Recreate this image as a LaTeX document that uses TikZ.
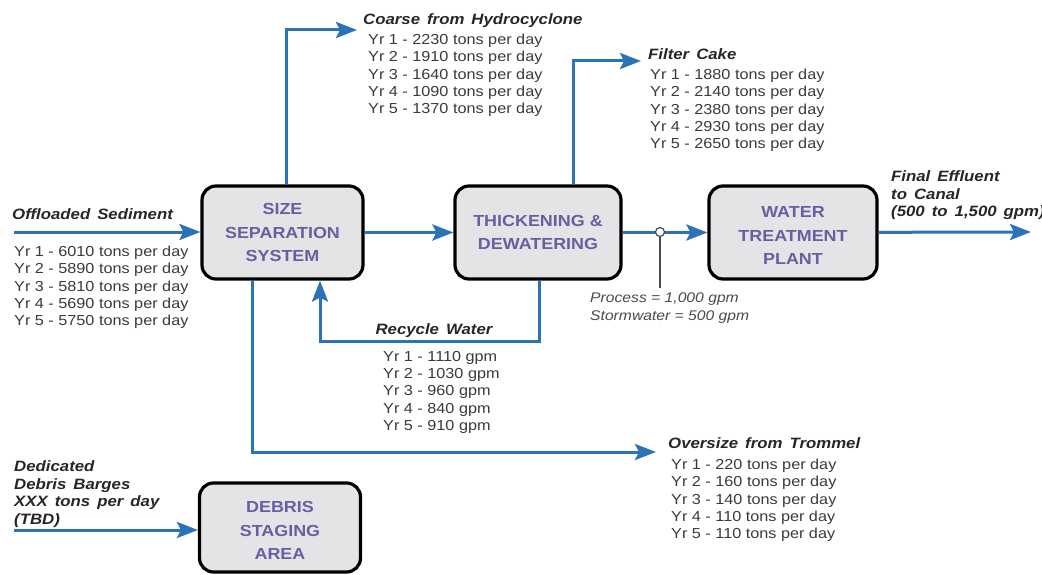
\documentclass[tikz,border=0pt]{standalone}
\usepackage{fontspec}
\setmainfont{Liberation Sans}[FakeStretch=1.12]
\usepackage{tikz}
\usetikzlibrary{arrows.meta, positioning}

\definecolor{flowblue}{HTML}{2B72B6}
\definecolor{boxfill}{HTML}{E4E4E6}
\definecolor{boxtext}{HTML}{6560A2}
\definecolor{datagrey}{HTML}{3A3A3A}
\definecolor{tapgrey}{HTML}{4A4A4A}

\newcommand{\widespaces}{\spaceskip=7pt plus 1pt\relax}
\newcommand{\topgap}{\rule{0pt}{17.5pt}}

\begin{document}
\begin{tikzpicture}[x=1pt, y=-1pt,
    unit/.style={draw=black, line width=3.2pt, fill=boxfill, rounded corners=14pt,
        minimum height=93pt, align=center, text=boxtext, inner sep=0pt,
        font=\fontsize{16}{23.5}\selectfont\bfseries},
    flow/.style={draw=flowblue, line width=3pt, -{Stealth[length=21pt, width=16pt, inset=4pt]}},
    title/.style={anchor=north west, inner sep=0pt, align=left, text=black!85,
        font=\fontsize{15}{17.5}\selectfont\bfseries\itshape\widespaces},
    data/.style={anchor=north west, inner sep=0pt, align=left, text=datagrey,
        font=\fontsize{14.5}{17.3}\selectfont}]
    \useasboundingbox (0,0) rectangle (1042,575);

    % Process units
    \node[unit, minimum width=161pt] (sizesep) at (282.5,232.5) {SIZE\\SEPARATION\\SYSTEM};
    \node[unit, minimum width=166pt] (thicken) at (538,232.5) {THICKENING \&\\DEWATERING};
    \node[unit, minimum width=168pt] (treat) at (793,232.5) {\topgap WATER\\TREATMENT\\PLANT};
    \node[unit, minimum width=161pt, minimum height=89pt] (debris) at (280,527.5) {\topgap DEBRIS\\STAGING\\AREA};

    % Free ends of the flows
    \coordinate (sedin) at (14,232);
    \coordinate (debrisin) at (14,530);
    \coordinate (coarseout) at (357,30);
    \coordinate (cakeout) at (641,61);
    \coordinate (recycle) at (430,341);
    \coordinate (oversizeout) at (656,452);
    \coordinate (effout) at (1031,232);
    \coordinate (tapend) at (660,288);

    % Flows
    \draw[flow] (sedin) -- (sedin -| sizesep.west);
    \draw[flow] (sizesep) -- (thicken);
    \draw[flow] (thicken) -- (treat);
    \draw[flow] (treat) -- (effout);
    \draw[flow] ([xshift=3.5pt]sizesep.north) |- (coarseout);
    \draw[flow] ([xshift=35pt]thicken.north) |- (cakeout);
    \draw[flow] ([xshift=1pt]thicken.south) |- (recycle) -| ([xshift=37.5pt]sizesep.south);
    \draw[flow] ([xshift=-30pt]sizesep.south) |- (oversizeout);
    \draw[flow] (debrisin) -- (debrisin -| debris.west);

    % Sampling point
    \node[circle, draw=tapgrey, fill=white, line width=1.2pt, minimum size=9pt, inner sep=0pt] (tap) at (660,232) {};
    \draw[tapgrey, line width=1.2pt] (tap) -- (tapend);

    % Labels
    \node[title] (sediment) at (12,208.5) {Offloaded Sediment};
    \node[data] (sedimentdata) at (14,245.8) {Yr 1 - 6010 tons per day\\Yr 2 - 5890 tons per day\\Yr 3 - 5810 tons per day\\Yr 4 - 5690 tons per day\\Yr 5 - 5750 tons per day};

    \node[title] (coarse) at (363,13.6) {Coarse from Hydrocyclone};
    \node[data] (coarsedata) at (368,33.8) {Yr 1 - 2230 tons per day\\Yr 2 - 1910 tons per day\\Yr 3 - 1640 tons per day\\Yr 4 - 1090 tons per day\\Yr 5 - 1370 tons per day};

    \node[title] (cake) at (648,48.6) {Filter Cake};
    \node[data] (cakedata) at (650,68.8) {Yr 1 - 1880 tons per day\\Yr 2 - 2140 tons per day\\Yr 3 - 2380 tons per day\\Yr 4 - 2930 tons per day\\Yr 5 - 2650 tons per day};

    \node[title] (effluent) at (891,170.6) {Final Effluent\\to Canal\\(500 to 1,500 gpm)};

    \node[data, text=tapgrey, font=\fontsize{14}{18}\selectfont\itshape] (flowrate) at (590,293) {Process = 1,000 gpm\\Stormwater = 500 gpm};

    \node[title, anchor=north] (recyclelbl) at (434,323.6) {Recycle Water};
    \node[data] (recycledata) at (383,350.8) {Yr 1 - 1110 gpm\\Yr 2 - 1030 gpm\\Yr 3 - 960 gpm\\Yr 4 - 840 gpm\\Yr 5 - 910 gpm};

    \node[title] (oversize) at (668,437.6) {Oversize from Trommel};
    \node[data] (oversizedata) at (671,458.8) {Yr 1 - 220 tons per day\\Yr 2 - 160 tons per day\\Yr 3 - 140 tons per day\\Yr 4 - 110 tons per day\\Yr 5 - 110 tons per day};

    \node[title] (barges) at (14,460.6) {Dedicated\\Debris Barges\\XXX tons per day\\(TBD)};
\end{tikzpicture}
\end{document}
